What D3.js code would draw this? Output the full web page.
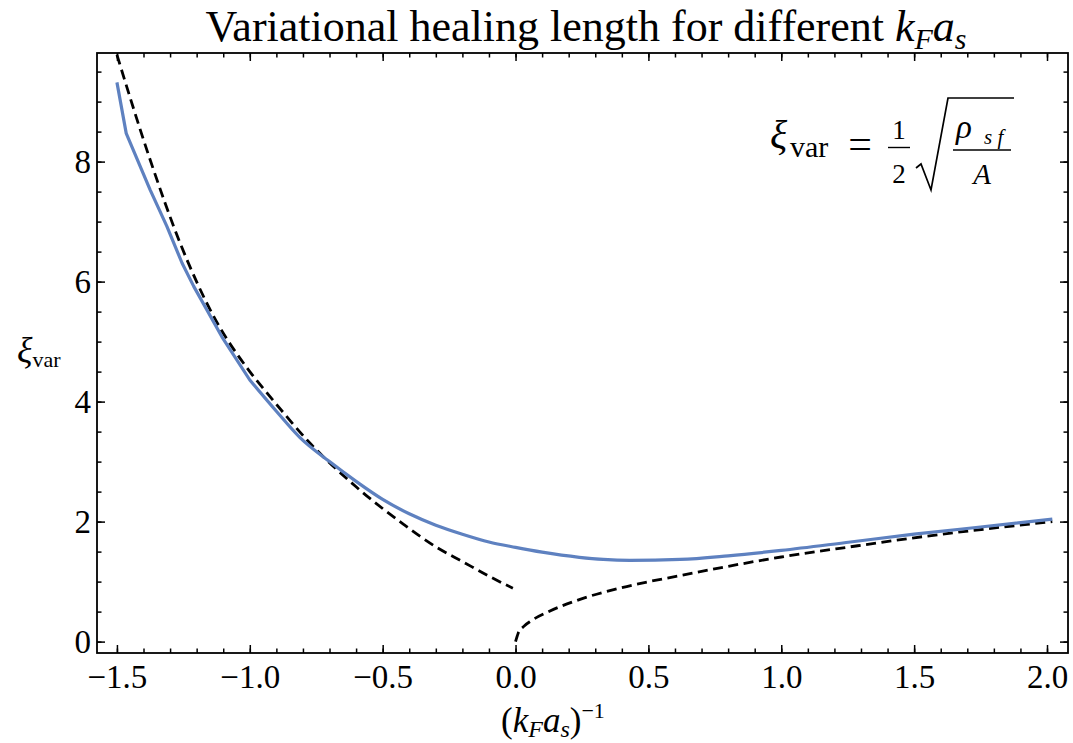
<!doctype html>
<html lang="en">
<head>
  <meta charset="utf-8">
  <script src="https://d3js.org/d3.v7.min.js"></script>
  <style>
    body { margin: 0; background: white; }
    text { font-family: "Liberation Serif", "Times New Roman", serif; fill: black; }
  </style>
</head>
<body>
<script>
  // variational healing length (solid blue)
  var varX = [-1.5, -1.465, -1.375, -1.312, -1.255, -1.211, -1.105, -1.0, -0.9, -0.811, -0.7, -0.6, -0.5, -0.4, -0.3, -0.2, -0.1, 0.0, 0.1, 0.24, 0.33, 0.43, 0.62, 0.8, 1.0, 1.26, 1.5, 1.75, 2.02];
  var varY = [9.32, 8.47, 7.53, 6.92, 6.31, 5.92, 5.08, 4.36, 3.84, 3.40, 3.00, 2.67, 2.37, 2.13, 1.94, 1.79, 1.66, 1.57, 1.49, 1.405, 1.37, 1.355, 1.37, 1.43, 1.52, 1.66, 1.79, 1.91, 2.04];

  // limiting form for (kF as)^-1 < 0 (dashed)
  var bcsX = [-1.5, -1.375, -1.262, -1.136, -1.0, -0.923, -0.774, -0.6, -0.42, -0.3, -0.198, -0.1, -0.01];
  var bcsY = [9.78, 8.03, 6.64, 5.42, 4.50, 4.08, 3.31, 2.58, 1.95, 1.58, 1.33, 1.09, 0.89];

  // limiting form for (kF as)^-1 > 0 (dashed)
  var becX = [0.0, 0.01, 0.03, 0.06, 0.12, 0.24, 0.4, 0.62, 1.0, 1.26, 1.5, 2.02];
  var becY = [0.0, 0.14, 0.25, 0.35, 0.49, 0.70, 0.90, 1.10, 1.41, 1.58, 1.73, 2.0];

  var xMajor = [-1.5, -1.0, -0.5, 0.0, 0.5, 1.0, 1.5, 2.0];
  var yMajor = [0, 2, 4, 6, 8];

  var width = 1073, height = 743;
  var pLeft = 97, pRight = 1068, pTop = 53, pBottom = 653;

  var x = d3.scaleLinear().domain([-1.575, 2.079]).range([pLeft, pRight]);
  var y = d3.scaleLinear().domain([-0.19, 9.81]).range([pBottom, pTop]);

  var xMinor = d3.range(-15, 21).map(function(d) { return d / 10; });
  var yMinor = d3.range(0, 20).map(function(d) { return d / 2; });

  var svg = d3.select("body").append("svg")
      .attr("width", width)
      .attr("height", height);

  svg.append("defs").append("clipPath").attr("id", "frame")
    .append("rect")
      .attr("x", pLeft).attr("y", pTop)
      .attr("width", pRight - pLeft).attr("height", pBottom - pTop);

  // ticks point inward on all four sides, labels only bottom and left
  function tickAxis(axis, scale, vals, size, pad, fmt) {
    var a = axis(scale).tickValues(vals).tickSize(-size);
    if (fmt) a.tickPadding(pad).tickFormat(fmt);
    else a.tickFormat("");
    return a;
  }

  var fx = d3.format(".1f");
  var fy = d3.format("d");

  var axes = [
    { t: "translate(0," + pBottom + ")", a: tickAxis(d3.axisBottom, x, xMinor, 4.5) },
    { t: "translate(0," + pBottom + ")", a: tickAxis(d3.axisBottom, x, xMajor, 8, 12, fx) },
    { t: "translate(0," + pTop + ")", a: tickAxis(d3.axisTop, x, xMinor, 4.5) },
    { t: "translate(0," + pTop + ")", a: tickAxis(d3.axisTop, x, xMajor, 8) },
    { t: "translate(" + pLeft + ",0)", a: tickAxis(d3.axisLeft, y, yMinor, 4.5) },
    { t: "translate(" + pLeft + ",0)", a: tickAxis(d3.axisLeft, y, yMajor, 8, 6, fy) },
    { t: "translate(" + pRight + ",0)", a: tickAxis(d3.axisRight, y, yMinor, 4.5) },
    { t: "translate(" + pRight + ",0)", a: tickAxis(d3.axisRight, y, yMajor, 8) }
  ];
  axes.forEach(function(d) {
    var g = svg.append("g").attr("transform", d.t).call(d.a);
    g.select(".domain").remove();
    g.selectAll("line").attr("stroke", "black").attr("stroke-width", 1.5);
    g.selectAll("text")
        .style("font-family", '"Liberation Serif", serif')
        .style("font-size", "33px")
        .attr("fill", "black");
  });

  svg.append("rect")
      .attr("x", pLeft).attr("y", pTop)
      .attr("width", pRight - pLeft).attr("height", pBottom - pTop)
      .attr("fill", "none")
      .attr("stroke", "black")
      .attr("stroke-width", 1.8);

  var plot = svg.append("g").attr("clip-path", "url(#frame)");

  var straight = d3.line().x(function(d) { return x(d[0]); }).y(function(d) { return y(d[1]); });
  var smooth = d3.line().curve(d3.curveMonotoneX).x(function(d) { return x(d[0]); }).y(function(d) { return y(d[1]); });

  [d3.zip(bcsX, bcsY), d3.zip(becX, becY)].forEach(function(pts) {
    plot.append("path")
        .attr("d", smooth(pts))
        .attr("fill", "none")
        .attr("stroke", "black")
        .attr("stroke-width", 2.8)
        .attr("stroke-dasharray", "10,5.5");
  });

  // the computed curve is coarse (kinked) on the far left, smooth further right
  var varPts = d3.zip(varX, varY);
  var coarse = varPts.filter(function(d) { return d[0] <= -1.0; });
  var fine = varPts.filter(function(d) { return d[0] >= -1.0; });
  plot.append("path")
      .attr("d", straight(coarse) + smooth(fine).replace(/^M/, "L"))
      .attr("fill", "none")
      .attr("stroke", "#5e81c0")
      .attr("stroke-width", 3.2)
      .attr("stroke-linejoin", "round");

  // title
  var title = svg.append("text")
      .attr("x", 586).attr("y", 41)
      .attr("text-anchor", "middle")
      .style("font-size", "44px");
  title.append("tspan").text("Variational healing length for different ");
  title.append("tspan").style("font-style", "italic").text("k");
  title.append("tspan").style("font-style", "italic").style("font-size", "30px").attr("dy", 8).text("F");
  title.append("tspan").style("font-style", "italic").attr("dy", -8).text("a");
  title.append("tspan").style("font-style", "italic").style("font-size", "30px").attr("dy", 8).text("s");

  // x axis label
  var xl = svg.append("text")
      .attr("x", 501).attr("y", 732)
      .style("font-size", "35px");
  xl.append("tspan").text("(");
  xl.append("tspan").style("font-style", "italic").text("k");
  xl.append("tspan").style("font-style", "italic").style("font-size", "24px").attr("dy", 5).text("F");
  xl.append("tspan").style("font-style", "italic").attr("dy", -5).text("a");
  xl.append("tspan").style("font-style", "italic").style("font-size", "24px").attr("dy", 5).text("s");
  xl.append("tspan").attr("dy", -5).text(")");
  xl.append("tspan").style("font-size", "22px").attr("dy", -14).text("\u22121");

  // y axis label
  var yl = svg.append("text").attr("x", 17).attr("y", 362).style("font-size", "36px");
  yl.append("tspan").style("font-style", "italic").text("\u03be");
  yl.append("tspan").style("font-size", "22px").attr("dy", 5).text("var");

  // formula annotation
  var f = svg.append("g");
  f.append("text").attr("x", 770).attr("y", 148).style("font-size", "40px").style("font-style", "italic").text("\u03be");
  f.append("text").attr("x", 790).attr("y", 157).style("font-size", "30px").text("var");
  f.append("text").attr("x", 860).attr("y", 158).attr("text-anchor", "middle").style("font-size", "42px").text("=");
  f.append("text").attr("x", 899).attr("y", 139).attr("text-anchor", "middle").style("font-size", "27px").text("1");
  f.append("line").attr("x1", 888).attr("x2", 910).attr("y1", 147.5).attr("y2", 147.5).attr("stroke", "black").attr("stroke-width", 1.4);
  f.append("text").attr("x", 899).attr("y", 183).attr("text-anchor", "middle").style("font-size", "27px").text("2");
  f.append("path").attr("d", "M916,168 L921,164 L931,190 L948,98 L1014,98")
      .attr("fill", "none").attr("stroke", "black").attr("stroke-width", 1.7).attr("stroke-linejoin", "miter");
  f.append("text").attr("x", 956).attr("y", 138).style("font-size", "33px").style("font-style", "italic").text("\u03c1");
  f.append("text").attr("x", 984).attr("y", 144).style("font-size", "21px").style("font-style", "italic").text("s f");
  f.append("line").attr("x1", 953).attr("x2", 1011).attr("y1", 150).attr("y2", 150).attr("stroke", "black").attr("stroke-width", 1.4);
  f.append("text").attr("x", 982).attr("y", 184).attr("text-anchor", "middle").style("font-size", "29px").style("font-style", "italic").text("A");
</script>
</body>
</html>
